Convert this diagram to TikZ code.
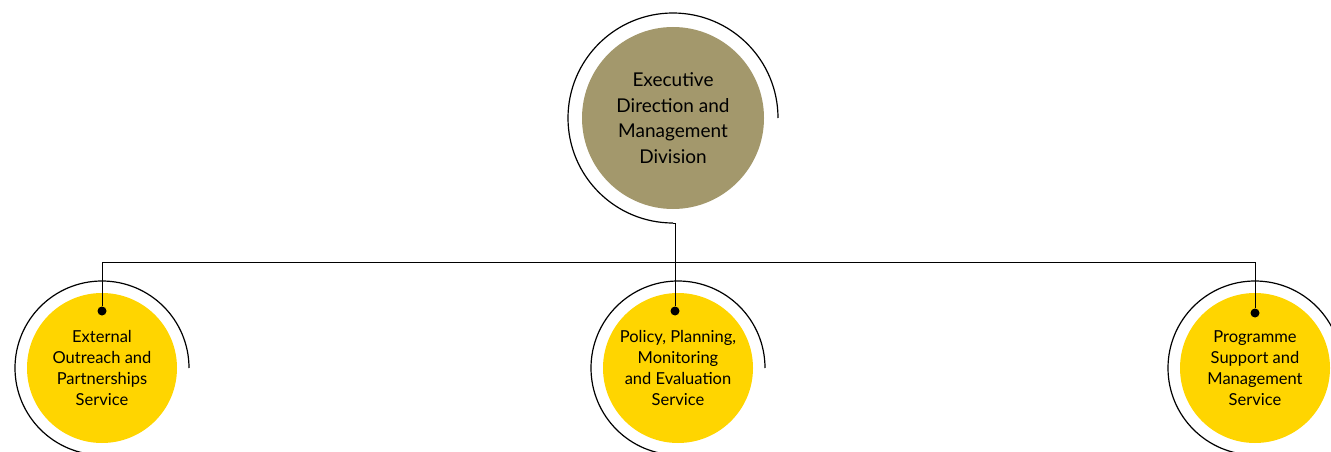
\documentclass[tikz,border=0pt]{standalone}
\usepackage{fontspec}
\setmainfont{Lato}
\usepackage{xcolor}
\usetikzlibrary{positioning}

\definecolor{khaki}{RGB}{163,152,108}
\definecolor{sunyellow}{RGB}{255,213,0}

\begin{document}
\begin{tikzpicture}[
  x=1pt, y=1pt,
  topunit/.style={circle, fill=khaki, minimum size=182pt, inner sep=0pt, align=center, font=\fontsize{19}{25.5}\selectfont},
  unit/.style={circle, fill=sunyellow, minimum size=150pt, inner sep=0pt, align=center, font=\fontsize{16.5}{21}\selectfont},
  ring/.style={line width=1.2pt, black},
  link/.style={line width=1pt, black},
  dot/.style={circle, fill=black, inner sep=0pt, minimum size=9pt}
]
\clip (0,0) rectangle (1331,451);

\node[topunit] (edm) at (673,333) {Executive\\Direction and\\Management\\Division};
\node[unit] (eop) at (102,83) {\\[-8pt]External\\Outreach and\\Partnerships\\Service};
\node[unit] (ppme) at (678,83) {\\[-8pt]Policy, Planning,\\Monitoring\\and Evaluation\\Service};
\node[unit] (psm) at (1255,83) {\\[-8pt]Programme\\Support and\\Management\\Service};

\node[dot] (eopdot) at (102,140) {};
\node[dot] (ppmedot) at (675,140) {};
\node[dot] (psmdot) at (1255,138) {};
\coordinate (bus) at (0,189);
\coordinate (edmfoot) at ([yshift=-105pt]edm.center);

% rings
\draw[ring] ([xshift=105pt]edm.center) arc[start angle=0, end angle=270, radius=105] -- (edmfoot);
\draw[ring] ([xshift=87pt]eop.center) arc[start angle=0, end angle=270, radius=87];
\draw[ring] ([xshift=87pt]ppme.center) arc[start angle=0, end angle=270, radius=87];
\draw[ring] ([xshift=87pt]psm.center) arc[start angle=0, end angle=270, radius=87];

% links
\draw[link] (eopdot) -- (eopdot |- bus) -- (psmdot |- bus) -- (psmdot);
\draw[link] (edmfoot) -| (ppmedot);
\end{tikzpicture}
\end{document}
